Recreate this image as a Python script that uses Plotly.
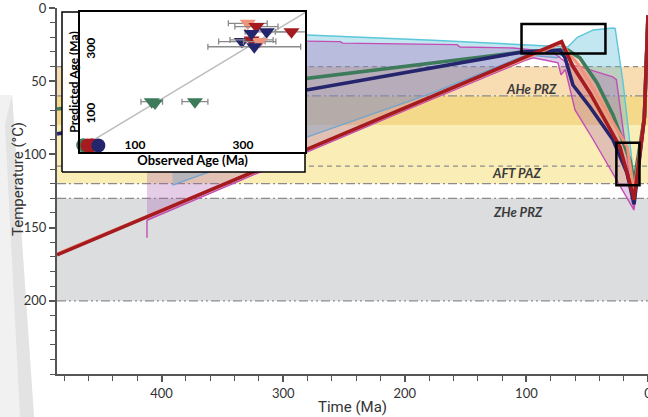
import plotly.graph_objects as go

# ---------------- data: thermal-history paths (time in Ma, temperature in degC) ----------------
red_t = [486, 71, 68, 61.7, 47.7, 23, 12.3, 11.5, 3, 0]
red_T = [168.6, 23, 28.7, 40, 58, 95, 127.6, 131, 75, 5]

salmon_t = [486, 71, 66, 56, 39.5, 17, 11.5, 3, 0]
salmon_T = [168, 24, 30, 40, 63, 95, 125, 75, 5]

green_t = [486, 280.4, 103, 65.8, 56, 42, 28.8, 14.8, 11.5, 3, 0]
green_T = [69, 48, 30, 28.7, 34, 51, 73, 104, 119, 75, 5]

navy_t = [486, 280.4, 103, 72.4, 68.2, 61.7, 47.7, 28.8, 17.3, 12.3, 11.5, 3, 0]
navy_T = [86, 56, 30, 28.7, 34, 52.6, 67.6, 90, 112.6, 131, 134, 75, 5]

# envelopes (upper = cooler boundary, lower = hotter boundary)
cyan_up_t = [391, 280.4, 177, 111, 72, 66, 58, 45, 29, 27, 20.5, 11.5, 3, 0, 3]
cyan_up_T = [16, 18.4, 22, 25, 26.6, 26.6, 20, 15, 13.7, 13.9, 51, 117, 75, 5, 75]
cyan_lo_t = [391, 280, 177, 100, 75, 66, 56, 42, 28.8, 14.8, 11.5]
cyan_lo_T = [121, 88, 58, 32, 34, 30, 35, 52, 74, 105, 117]

mag_up_t = [412, 280.4, 253, 251, 157, 154.6, 111, 94.6, 80, 70, 64, 56, 29, 26, 11.5, 3, 0, 3]
mag_up_T = [21, 23, 23, 24, 25, 26.6, 27.3, 28.7, 29, 35.5, 39, 40, 47, 49, 138, 75, 5, 75]
mag_lo_t = [412, 412, 300, 200, 100, 94.6, 85, 74, 71.5, 68, 60, 45, 26, 11.5]
mag_lo_T = [157, 145, 105.3, 70, 35.5, 34, 35.5, 37.5, 45.7, 42, 69.6, 90, 117, 138]

sal_env_up_t = [71, 66, 56, 42, 28.8, 14.8, 11.5]
sal_env_up_T = [23, 28, 34, 51, 73, 104, 119]
sal_env_lo_t = [72.4, 68.2, 61.7, 47.7, 28.8, 17.3, 12.3]
sal_env_lo_T = [28.7, 34, 52.6, 67.6, 90, 112.6, 131]

# partial retention / annealing zones (degC)
band_lo = [40, 60, 80, 130]
band_hi = [60, 80, 120, 200]
band_col = ["#f8dcb2", "#f5d98a", "#faeeb6", "#dcdddf"]
zone_line_T = [40, 60, 108, 120, 130, 200]
zone_line_dash = ["5px,4px", "9px,3px,2px,3px", "5px,4px", "9px,3px,2px,3px",
                  "9px,3px,2px,3px", "9px,3px,2px,3px,2px,3px"]
zone_names = ["AHe PRZ", "AFT PAZ", "ZHe PRZ"]
zone_name_t = [96, 108, 107]
zone_name_T = [55, 113, 139]

# constraint boxes
box_t0 = [104, 26]
box_t1 = [35, 7]
box_T0 = [11, 92]
box_T1 = [31, 121]

# axis ticks
x_ticks = [400, 300, 200, 100, 0]
y_ticks = [0, 50, 100, 150, 200]
inset_ticks = [100, 300]

# inset: observed vs predicted ages (Ma)
tri_obs = [131, 137, 211, 309, 325, 344, 390, 298, 316, 331, 321, 316]
tri_pred = [141, 137, 141, 382, 372, 356, 356, 326, 331, 326, 310, 351]
tri_err = [20, 0, 24, 36, 40, 40, 30, 43, 40, 30, 86, 0]
tri_grp = ["green", "green", "green", "salmon", "red", "navy", "red", "navy", "red", "salmon", "navy", "navy"]
circ_obs = [4, 12, 20, 32]
circ_pred = [7, 6, 7, 6]
circ_grp = ["green", "red", "red", "navy"]

COL = {"green": "#3d7b5b", "red": "#a51b1f", "navy": "#25256e", "salmon": "#ef947a"}
CYAN = "#5cc6da"
MAG = "#c24db4"
COND = "Roboto, DejaVu Sans, sans-serif"

# ---------------- layout geometry ----------------
W, H = 648, 417
ML, MR, MT, MB = 57, 0, 8, 43
PW, PH = W - ML - MR, H - MT - MB
XR = [486, 0]
YR = [250, 0]


def fx(px):
    return (px - ML) / PW


def fy(py):
    return (H - MB - py) / PH


def data_t(f):
    return XR[0] + f * (XR[1] - XR[0])


def data_T(f):
    return YR[0] + f * (YR[1] - YR[0])


fig = go.Figure()

# envelopes
fig.add_trace(go.Scatter(x=cyan_up_t + cyan_lo_t[::-1], y=cyan_up_T + cyan_lo_T[::-1],
                         fill="toself", fillcolor="rgba(80,185,215,0.35)", mode="lines",
                         line=dict(color=CYAN, width=1.4), hoverinfo="skip", showlegend=False))
fig.add_trace(go.Scatter(x=mag_up_t + mag_lo_t[::-1], y=mag_up_T + mag_lo_T[::-1],
                         fill="toself", fillcolor="rgba(170,90,175,0.30)", mode="lines",
                         line=dict(color=MAG, width=1.4), hoverinfo="skip", showlegend=False))
fig.add_trace(go.Scatter(x=sal_env_up_t + sal_env_lo_t[::-1], y=sal_env_up_T + sal_env_lo_T[::-1],
                         fill="toself", fillcolor="rgba(236,140,110,0.35)", mode="lines",
                         line=dict(width=0), hoverinfo="skip", showlegend=False))

# best-fit paths
for tt, TT, c, w in [(green_t, green_T, COL["green"], 3.6), (navy_t, navy_T, COL["navy"], 3.6),
                     (salmon_t, salmon_T, COL["salmon"], 3.0), (red_t, red_T, COL["red"], 3.6)]:
    fig.add_trace(go.Scatter(x=tt, y=TT, mode="lines", line=dict(color=c, width=w),
                             hoverinfo="skip", showlegend=False))

# white cover behind the inset (drawn in main axes, above main traces)
ox0, ox1, oy0, oy1 = fx(62), fx(305), fy(172), fy(12)
fig.add_trace(go.Scatter(x=[data_t(ox0), data_t(ox1), data_t(ox1), data_t(ox0), data_t(ox0)],
                         y=[data_T(oy0), data_T(oy0), data_T(oy1), data_T(oy1), data_T(oy0)],
                         fill="toself", fillcolor="white", mode="lines",
                         line=dict(color="black", width=1.5), hoverinfo="skip", showlegend=False))

# inset traces
fig.add_trace(go.Scatter(x=[-20, 440], y=[-20, 440], mode="lines", line=dict(color="#bdbdbd", width=1.5),
                         xaxis="x2", yaxis="y2", hoverinfo="skip", showlegend=False))
for o, p, e, g in zip(tri_obs, tri_pred, tri_err, tri_grp):
    fig.add_trace(go.Scatter(x=[o], y=[p], mode="markers", xaxis="x2", yaxis="y2",
                             marker=dict(symbol="triangle-down", size=14, color=COL[g], line=dict(width=0)),
                             error_x=dict(type="data", array=[e], color="#8a8a8a", thickness=1.3, width=3,
                                          visible=e > 0),
                             cliponaxis=True, hoverinfo="skip", showlegend=False))
fig.add_trace(go.Scatter(x=circ_obs, y=circ_pred, mode="markers", xaxis="x2", yaxis="y2",
                         marker=dict(symbol="circle", size=14, color=[COL[g] for g in circ_grp], line=dict(width=0)),
                         cliponaxis=False, hoverinfo="skip", showlegend=False))

shapes = []
# page shadow wedge at the left
shapes.append(dict(type="path", xref="paper", yref="paper", layer="below",
                   path=f"M {fx(0)} {fy(95)} L {fx(12)} {fy(95)} L {fx(34)} {fy(417)} L {fx(0)} {fy(417)} Z",
                   fillcolor="#f1f1f1", line=dict(width=0)))
shapes.append(dict(type="path", xref="paper", yref="paper", layer="below",
                   path=f"M {fx(5)} {fy(125)} L {fx(12)} {fy(95)} L {fx(34)} {fy(417)} L {fx(20)} {fy(417)} Z",
                   fillcolor="#e3e3e3", line=dict(width=0)))
for lo, hi, c in zip(band_lo, band_hi, band_col):
    shapes.append(dict(type="rect", xref="x", yref="y", x0=XR[0], x1=XR[1], y0=lo, y1=hi,
                       fillcolor=c, line=dict(width=0), layer="below"))
for T, d in zip(zone_line_T, zone_line_dash):
    shapes.append(dict(type="line", xref="x", yref="y", x0=XR[0], x1=XR[1], y0=T, y1=T,
                       line=dict(color="#8c8c8c", width=1.2, dash=d), layer="below"))
shapes.append(dict(type="line", xref="x", yref="y", x0=XR[0], x1=XR[1], y0=-0.6, y1=-0.6,
                   line=dict(color="#7a7a7a", width=2), layer="above"))
for a, b, c, d in zip(box_t0, box_t1, box_T0, box_T1):
    shapes.append(dict(type="rect", xref="x", yref="y", x0=a, x1=b, y0=c, y1=d,
                       line=dict(color="black", width=2.5), fillcolor="rgba(0,0,0,0)", layer="above"))

annotations = []
for n, t, T in zip(zone_names, zone_name_t, zone_name_T):
    annotations.append(dict(x=t, y=T, xref="x", yref="y", text=f"<b><i>{n}</i></b>", showarrow=False,
                            xanchor="center", yanchor="middle",
                            font=dict(family="Lato", size=13, color="#3a3a3a")))
annotations.append(dict(x=fx(18), y=fy(179), xref="paper", yref="paper", text="Temperature (°C)",
                        textangle=-90, showarrow=False, xanchor="center", yanchor="middle",
                        font=dict(family=COND, size=15, color="#333")))

axis_common = dict(showline=True, linecolor="#555", linewidth=2, ticks="outside", tickcolor="#555",
                   tickwidth=1.5, ticklen=6, showgrid=False, zeroline=False, automargin=False,
                   ticklabeloverflow="allow",
                   tickfont=dict(family="Lato", size=13, color="#333"))

fig.update_layout(
    width=W, height=H, margin=dict(l=ML, r=MR, t=MT, b=MB, autoexpand=False),
    paper_bgcolor="white", plot_bgcolor="white",
    font=dict(family="Lato", color="#333"),
    xaxis=dict(range=XR, domain=[0, 1], tickvals=x_ticks,
               minor=dict(dtick=20, tick0=0, ticks="outside", ticklen=5, tickcolor="#555", tickwidth=1.3),
               title=dict(text="Time (Ma)", standoff=2,
                          font=dict(family=COND, size=15, color="#333")),
               **axis_common),
    yaxis=dict(range=YR, domain=[0, 1], tickvals=y_ticks,
               minor=dict(dtick=10, tick0=0, ticks="outside", ticklen=5, tickcolor="#555", tickwidth=1.3),
               **axis_common),
    xaxis2=dict(domain=[fx(80), fx(305)], anchor="y2", range=[-2, 415], showgrid=False, zeroline=False,
                showline=True, linecolor="black", linewidth=2, mirror=True, ticks="", automargin=False,
                tickvals=inset_ticks, ticklabelposition="inside",
                tickfont=dict(family="Lato", size=12, color="black", weight="bold"),
                title=dict(text="<b>Observed Age (Ma)</b>", standoff=3,
                           font=dict(family="Lato", size=13, color="black"))),
    yaxis2=dict(domain=[fy(152), fy(12)], anchor="x2", range=[-14, 417], showgrid=False, zeroline=False,
                showline=True, linecolor="black", linewidth=2, mirror=True, ticks="", automargin=False,
                tickvals=inset_ticks, ticklabelposition="inside", tickangle=-90,
                tickfont=dict(family="Lato", size=12, color="black", weight="bold"),
                title=dict(text="<b>Predicted Age (Ma)</b>", standoff=2,
                           font=dict(family="Lato", size=12, color="black"))),
    shapes=shapes, annotations=annotations,
)

fig.write_html("out.html", config={"displayModeBar": False},
               post_script="document.body.style.margin='0px';document.body.style.padding='0px';")
